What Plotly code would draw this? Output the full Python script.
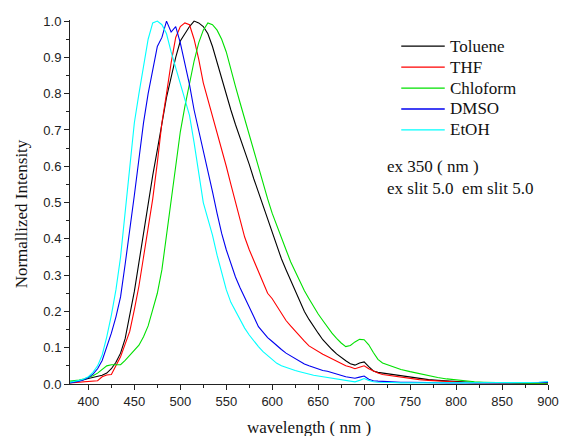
import plotly.graph_objects as go

# wavelength grid (nm)
wavelength = list(range(380, 721, 5)) + list(range(730, 901, 10))

toluene = [0.004, 0.006, 0.009, 0.012, 0.015, 0.018, 0.021, 0.024, 0.030, 0.042,
           0.060, 0.085, 0.125, 0.185, 0.255, 0.335, 0.415, 0.500, 0.575, 0.645,
           0.720, 0.790, 0.845, 0.900, 0.945, 0.965, 0.985, 1.000, 0.995, 0.985,
           0.965, 0.930, 0.885, 0.845, 0.795, 0.755, 0.715, 0.680, 0.645, 0.605,
           0.565, 0.528, 0.495, 0.455, 0.420, 0.380, 0.345, 0.315, 0.285, 0.255,
           0.225, 0.200, 0.178, 0.158, 0.140, 0.122, 0.108, 0.095, 0.083, 0.073,
           0.064, 0.056, 0.052, 0.058, 0.061, 0.048, 0.036, 0.032, 0.030,
           0.026, 0.022, 0.019, 0.015, 0.012, 0.010, 0.008, 0.006, 0.005, 0.004,
           0.004, 0.003, 0.003, 0.002, 0.002, 0.002, 0.003, 0.003]

thf = [0.003, 0.004, 0.005, 0.004, 0.005, 0.006, 0.009, 0.020, 0.025, 0.026,
       0.050, 0.075, 0.110, 0.145, 0.205, 0.270, 0.350, 0.430, 0.510, 0.610,
       0.720, 0.800, 0.885, 0.955, 0.985, 0.995, 0.990, 0.950, 0.895, 0.830,
       0.785, 0.740, 0.695, 0.650, 0.600, 0.550, 0.500, 0.450, 0.405, 0.370,
       0.340, 0.310, 0.280, 0.250, 0.235, 0.215, 0.195, 0.175, 0.160, 0.145,
       0.130, 0.118, 0.105, 0.097, 0.090, 0.082, 0.076, 0.070, 0.063, 0.056,
       0.050, 0.047, 0.042, 0.046, 0.050, 0.042, 0.035, 0.030, 0.026,
       0.022, 0.018, 0.015, 0.012, 0.010, 0.008, 0.006, 0.005, 0.004,
       0.003, 0.003, 0.003, 0.002, 0.001, 0.002, 0.002, 0.002, 0.002]

chloroform = [0.008, 0.009, 0.011, 0.014, 0.018, 0.023, 0.030, 0.040, 0.050, 0.053,
              0.052, 0.053, 0.065, 0.080, 0.093, 0.107, 0.130, 0.160, 0.205, 0.250,
              0.315, 0.410, 0.510, 0.600, 0.695, 0.765, 0.833, 0.890, 0.940, 0.975,
              0.995, 0.990, 0.975, 0.950, 0.915, 0.865, 0.820, 0.775, 0.730, 0.685,
              0.640, 0.595, 0.550, 0.510, 0.470, 0.435, 0.400, 0.370, 0.337, 0.310,
              0.282, 0.257, 0.235, 0.213, 0.193, 0.175, 0.157, 0.140, 0.126, 0.113,
              0.103, 0.106, 0.116, 0.123, 0.122, 0.108, 0.087, 0.068, 0.058,
              0.048, 0.040, 0.034, 0.028, 0.023, 0.018, 0.014, 0.011, 0.008,
              0.006, 0.005, 0.004, 0.003, 0.002, 0.002, 0.002, 0.002, 0.002]

dmso = [0.003, 0.005, 0.008, 0.012, 0.018, 0.027, 0.042, 0.065, 0.100, 0.140,
        0.185, 0.240, 0.330, 0.420, 0.520, 0.620, 0.720, 0.800, 0.870, 0.930,
        0.955, 1.000, 0.970, 0.985, 0.940, 0.885, 0.825, 0.755, 0.700, 0.640,
        0.585, 0.530, 0.470, 0.415, 0.370, 0.330, 0.295, 0.265, 0.237, 0.210,
        0.185, 0.158, 0.142, 0.128, 0.117, 0.105, 0.095, 0.085, 0.077, 0.070,
        0.063, 0.055, 0.050, 0.045, 0.041, 0.037, 0.035, 0.031, 0.027, 0.023,
        0.020, 0.018, 0.016, 0.019, 0.022, 0.013, 0.009, 0.008, 0.007,
        0.006, 0.005, 0.005, 0.004, 0.004, 0.003, 0.003, 0.003, 0.003,
        0.002, 0.003, 0.002, 0.003, 0.002, 0.003, 0.003, 0.004, 0.005]

etoh = [0.005, 0.007, 0.010, 0.014, 0.020, 0.032, 0.050, 0.080, 0.130, 0.190,
        0.260, 0.350, 0.470, 0.600, 0.720, 0.800, 0.880, 0.950, 0.995, 1.000,
        0.990, 0.965, 0.915, 0.870, 0.830, 0.785, 0.740, 0.665, 0.585, 0.500,
        0.455, 0.410, 0.355, 0.310, 0.260, 0.225, 0.200, 0.175, 0.154, 0.135,
        0.118, 0.103, 0.089, 0.078, 0.068, 0.057, 0.050, 0.045, 0.040, 0.037,
        0.034, 0.030, 0.027, 0.024, 0.022, 0.020, 0.018, 0.016, 0.013, 0.011,
        0.009, 0.007, 0.006, 0.010, 0.015, 0.010, 0.006, 0.005, 0.004,
        0.004, 0.003, 0.003, 0.003, 0.002, 0.002, 0.002, 0.002, 0.002,
        0.002, 0.002, 0.002, 0.003, 0.003, 0.003, 0.004, 0.005, 0.007]

names = ["Toluene", "THF", "Chloform", "DMSO", "EtOH"]
colors = ["#000000", "#FF0000", "#00E000", "#0000F0", "#00FFFF"]
series = [toluene, thf, chloroform, dmso, etoh]

x_ticks = list(range(400, 901, 50))
y_ticks = [round(0.1 * i, 1) for i in range(11)]

SERIF = "Liberation Serif, Times New Roman, serif"
SANS = "Liberation Sans, Arial, sans-serif"

fig = go.Figure()
for name, color, ys in zip(names, colors, series):
    fig.add_trace(go.Scatter(x=wavelength, y=ys, mode="lines", name=name,
                             line=dict(color=color, width=1.1), showlegend=False))

fig.update_layout(
    width=571, height=436,
    margin=dict(l=70, r=13, t=20, b=52),
    paper_bgcolor="white", plot_bgcolor="white",
    showlegend=False,
    xaxis=dict(range=[380, 900], tickvals=x_ticks, ticks="outside", ticklen=5,
               tickwidth=1, tickcolor="#222", showline=True, linecolor="#222",
               linewidth=1, showgrid=False, zeroline=False,
               tickfont=dict(family=SANS, size=13, color="#222"),
               minor=dict(dtick=25, tick0=375, ticks="outside", ticklen=3,
                          tickcolor="#222")),
    yaxis=dict(range=[0, 1.003], tickvals=y_ticks, tickformat=".1f",
               ticks="outside", ticklen=5, tickwidth=1, tickcolor="#222",
               showline=True, linecolor="#222", linewidth=1, showgrid=False,
               zeroline=False, tickfont=dict(family=SANS, size=13, color="#222"),
               minor=dict(dtick=0.05, tick0=0, ticks="outside", ticklen=3,
                          tickcolor="#222")),
)

# axis titles
fig.add_annotation(text="Normallized Intensity", xref="paper", yref="paper",
                   x=-0.101, y=0.468, xanchor="center", yanchor="middle",
                   textangle=-90, showarrow=False,
                   font=dict(family=SERIF, size=17, color="#111"))
fig.add_annotation(text="wavelength ( nm )", xref="paper", yref="paper",
                   x=0.5, y=-0.088, xanchor="center", yanchor="top",
                   showarrow=False, font=dict(family=SERIF, size=17, color="#111"))

# legend (drawn manually to match row spacing)
row_top = 0.928
row_step = 0.0575
for i, (name, color) in enumerate(zip(names, colors)):
    yy = row_top - i * row_step
    fig.add_shape(type="line", xref="paper", yref="paper",
                  x0=0.693, x1=0.784, y0=yy, y1=yy,
                  line=dict(color=color, width=1.3))
    fig.add_annotation(text=name, xref="paper", yref="paper", x=0.791, y=yy,
                       xanchor="left", yanchor="middle", showarrow=False,
                       font=dict(family=SERIF, size=17, color="#111"))

fig.add_annotation(text="ex 350 ( nm )<br>ex slit 5.0\u00a0 em slit 5.0",
                   xref="paper", yref="paper", x=0.658, y=0.63,
                   xanchor="left", yanchor="top", align="left", showarrow=False,
                   font=dict(family=SERIF, size=17, color="#111"))

fig.write_html("out.html")
